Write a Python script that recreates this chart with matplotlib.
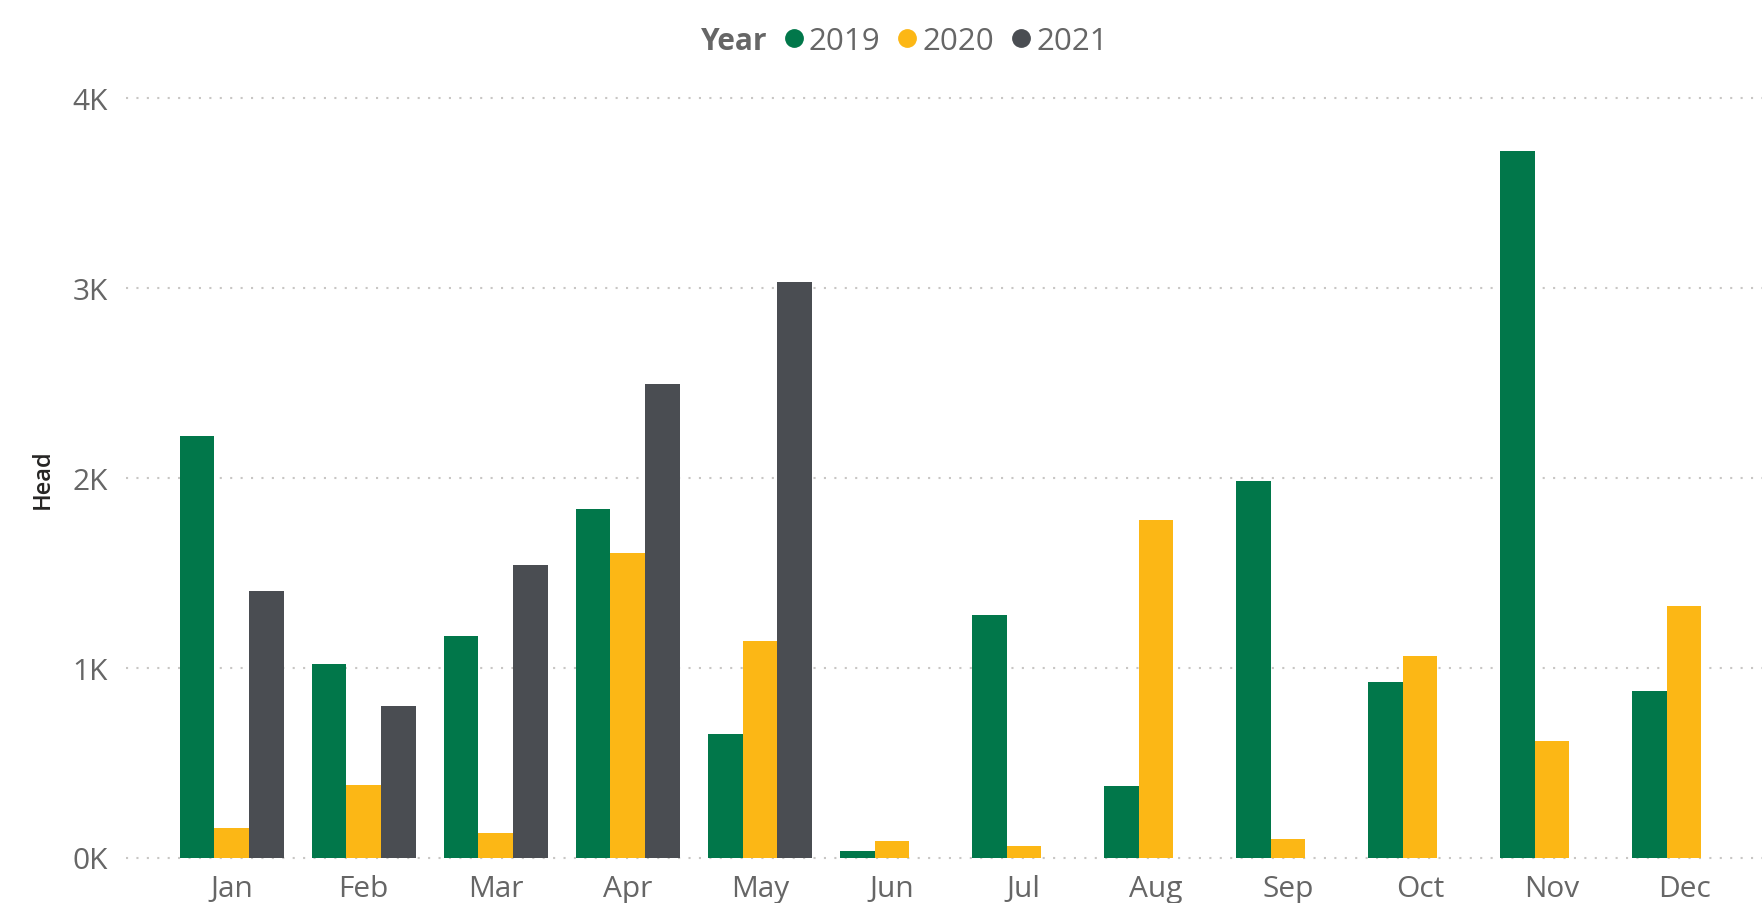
import numpy as np
import matplotlib.pyplot as plt
from matplotlib.lines import Line2D
from matplotlib.ticker import FuncFormatter

months = ['Jan', 'Feb', 'Mar', 'Apr', 'May', 'Jun', 'Jul', 'Aug', 'Sep', 'Oct', 'Nov', 'Dec']
years = ['2019', '2020', '2021']
head_2019 = [2218, 1021, 1168, 1835, 649, 35, 1279, 375, 1982, 926, 3722, 879]
head_2020 = [154, 381, 128, 1604, 1142, 88, 61, 1777, 98, 1063, 612, 1326]
head_2021 = [1405, 800, 1540, 2496, 3030, np.nan, np.nan, np.nan, np.nan, np.nan, np.nan, np.nan]
colors = ['#01774A', '#FCB715', '#4A4D52']

plt.rcParams['font.family'] = ['Open Sans', 'DejaVu Sans']
text_grey = '#666666'

W, H = 1762, 904
fig = plt.figure(figsize=(W / 100, H / 100), dpi=100)
ax = fig.add_axes([126 / W, (H - 858.5) / H, 1 - 126 / W, (858.5 - 98.9) / H])

x = np.arange(len(months))
w = 0.262
series = [head_2019, head_2020, head_2021]
for i, vals in enumerate(series):
    ax.bar(x + (i - 1) * w, vals, width=w, color=colors[i], zorder=2)

ax.set_xlim(-0.80, 11.59)
ax.set_ylim(0, 4000)
ax.set_yticks([0, 1000, 2000, 3000, 4000])
ax.yaxis.set_major_formatter(FuncFormatter(lambda v, p: '%dK' % round(v / 1000)))
ax.set_xticks(x)
ax.set_xticklabels(months)

ax.grid(axis='y', color='#C8C6C4', linestyle=(0, (1, 4)), linewidth=1.5, zorder=0)
ax.set_axisbelow(True)
for gl in ax.get_ygridlines():
    gl.set_clip_on(False)
for s in ax.spines.values():
    s.set_visible(False)
ax.tick_params(axis='both', length=0, labelsize=21.5, labelcolor=text_grey)
ax.tick_params(axis='y', pad=13)
ax.tick_params(axis='x', pad=12)

fig.text(43 / W, 1 - 479 / H, 'Head', rotation=90, ha='center', va='center',
         fontsize=17, fontweight='semibold', color='#252423')

# legend
fig.text(701 / W, 1 - 41.6 / H, 'Year', ha='left', va='center', fontsize=21.5,
         fontweight='bold', color=text_grey)
handles = [Line2D([], [], linestyle='none', marker='o', markersize=12.5, color=c) for c in colors]
fig.legend(handles, years, loc='center left', bbox_to_anchor=(785 / W, 1 - 41.6 / H),
           ncol=3, frameon=False, fontsize=22.5, labelcolor=text_grey, borderpad=0,
           borderaxespad=0, handlelength=0.55, handletextpad=0.2, columnspacing=0.6)

fig.savefig('out.png', dpi=100)
